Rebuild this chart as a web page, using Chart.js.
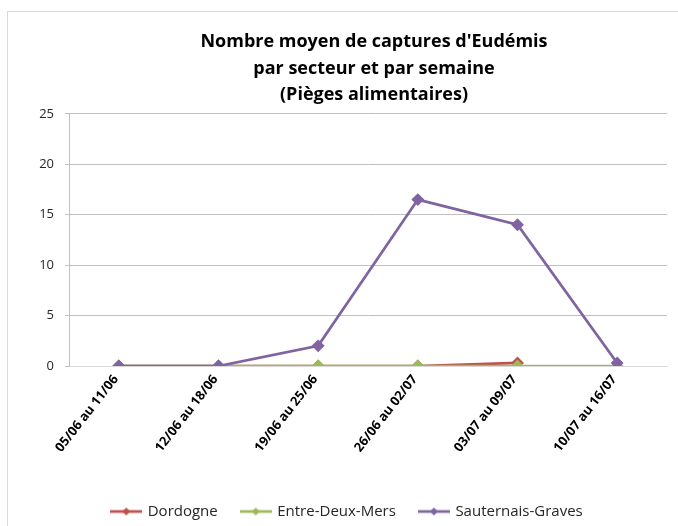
<!DOCTYPE html>
<html>
<head>
<meta charset="utf-8">
<script src="https://cdn.jsdelivr.net/npm/chart.js@4.4.1/dist/chart.umd.min.js"></script>
<style>
  html, body { margin: 0; padding: 0; background: #fff; }
  #wrap { position: relative; width: 678px; height: 526px; overflow: hidden; }
  #frame { position: absolute; left: 7px; top: 11px; right: -2px; bottom: -2px;
           border-left: 1px solid #d9d9d9; border-top: 1px solid #d9d9d9; }
  #chart { position: absolute; left: 0; top: 0; }
</style>
</head>
<body>
<div id="wrap">
  <div id="frame"></div>
  <canvas id="chart" width="678" height="526"></canvas>
</div>
<script>
// --- Data ---
const weeks = ['05/06 au 11/06', '12/06 au 18/06', '19/06 au 25/06', '26/06 au 02/07', '03/07 au 09/07', '10/07 au 16/07'];
const dordogne = [0, 0, 0, 0, 0.3, null];
const entreDeuxMers = [0, 0, 0, 0, 0, 0];
const sauternaisGraves = [0, 0, 2, 16.5, 14, 0.3];
const yTicks = [0, 5, 10, 15, 20, 25];

const titleLines = ["Nombre moyen de captures d'Eudémis", 'par secteur et par semaine', '(Pièges alimentaires)'];

// Small legend marker: line with a diamond in the middle, like the Excel legend
function legendMarker(color) {
    const c = document.createElement('canvas');
    c.width = 32;
    c.height = 10;
    const g = c.getContext('2d');
    g.strokeStyle = color;
    g.lineWidth = 2.75;
    g.beginPath();
    g.moveTo(0, 5);
    g.lineTo(32, 5);
    g.stroke();
    g.fillStyle = color;
    g.beginPath();
    g.moveTo(16, 1);
    g.lineTo(20, 5);
    g.lineTo(16, 9);
    g.lineTo(12, 5);
    g.closePath();
    g.fill();
    return c;
}

function series(label, data, color, order) {
    return {
        label: label,
        data: data,
        borderColor: color,
        backgroundColor: color,
        borderWidth: 2.75,
        pointStyle: 'rectRot',
        pointRadius: 4.5,
        pointHoverRadius: 4.5,
        pointBackgroundColor: color,
        pointBorderColor: color,
        tension: 0,
        order: order,
        legendImg: legendMarker(color)
    };
}

// Nudge title and legend sideways, Excel centres them a bit right of the canvas middle
const nudgeBoxes = {
    id: 'nudgeBoxes',
    afterLayout(chart) {
        if (chart.titleBlock) {
            chart.titleBlock.left += 6;
            chart.titleBlock.right += 6;
        }
        if (chart.legend) {
            chart.legend.left += 14;
            chart.legend.right += 14;
            chart.legend.adjustHitBoxes();
        }
    }
};

const ctx = document.getElementById('chart').getContext('2d');
const chart = new Chart(ctx, {
    type: 'line',
    data: {
        labels: weeks,
        datasets: [
            series('Dordogne', dordogne, '#c0504d', 2),
            series('Entre-Deux-Mers', entreDeuxMers, '#9bbb59', 1),
            series('Sauternais-Graves', sauternaisGraves, '#8064a2', 0)
        ]
    },
    plugins: [nudgeBoxes],
    options: {
        responsive: false,
        animation: false,
        layout: { padding: { left: 0, right: 11, top: 0, bottom: -3 } },
        plugins: {
            title: {
                display: true,
                text: titleLines,
                color: '#000',
                fullSize: false,
                font: { family: 'Open Sans', size: 18, weight: 'bold', lineHeight: 1.46 },
                padding: { top: 29, bottom: 6 }
            },
            legend: {
                position: 'bottom',
                labels: {
                    usePointStyle: true,
                    pointStyleWidth: 28,
                    color: '#262626',
                    font: { family: 'Open Sans', size: 15 },
                    padding: 24,
                    sort: (a, b) => a.datasetIndex - b.datasetIndex,
                    generateLabels: function(chart) {
                        return chart.data.datasets.map((ds, i) => ({
                            text: ds.label,
                            pointStyle: ds.legendImg,
                            fillStyle: ds.borderColor,
                            strokeStyle: ds.borderColor,
                            fontColor: '#262626',
                            lineWidth: 0,
                            hidden: false,
                            datasetIndex: i
                        }));
                    }
                }
            },
            tooltip: { enabled: false }
        },
        scales: {
            x: {
                offset: true,
                afterFit: function(scale) {
                    scale.height = 114;
                },
                grid: { display: false, drawTicks: false },
                border: { color: '#d9d9d9' },
                ticks: {
                    color: '#000',
                    font: { family: 'Open Sans', size: 13, weight: 'bold' },
                    minRotation: 52,
                    maxRotation: 52,
                    padding: 6,
                    labelOffset: -3,
                    autoSkip: false
                }
            },
            y: {
                min: 0,
                max: 25,
                afterBuildTicks: function(scale) {
                    scale.ticks = yTicks.map(v => ({ value: v }));
                },
                afterFit: function(scale) {
                    scale.width = 69;
                },
                grid: { color: '#bfbfbf', tickLength: 4, drawOnChartArea: true },
                border: { color: '#bfbfbf' },
                ticks: {
                    color: '#262626',
                    font: { family: 'Open Sans', size: 13 },
                    padding: 11
                }
            }
        }
    }
});
</script>
</body>
</html>
